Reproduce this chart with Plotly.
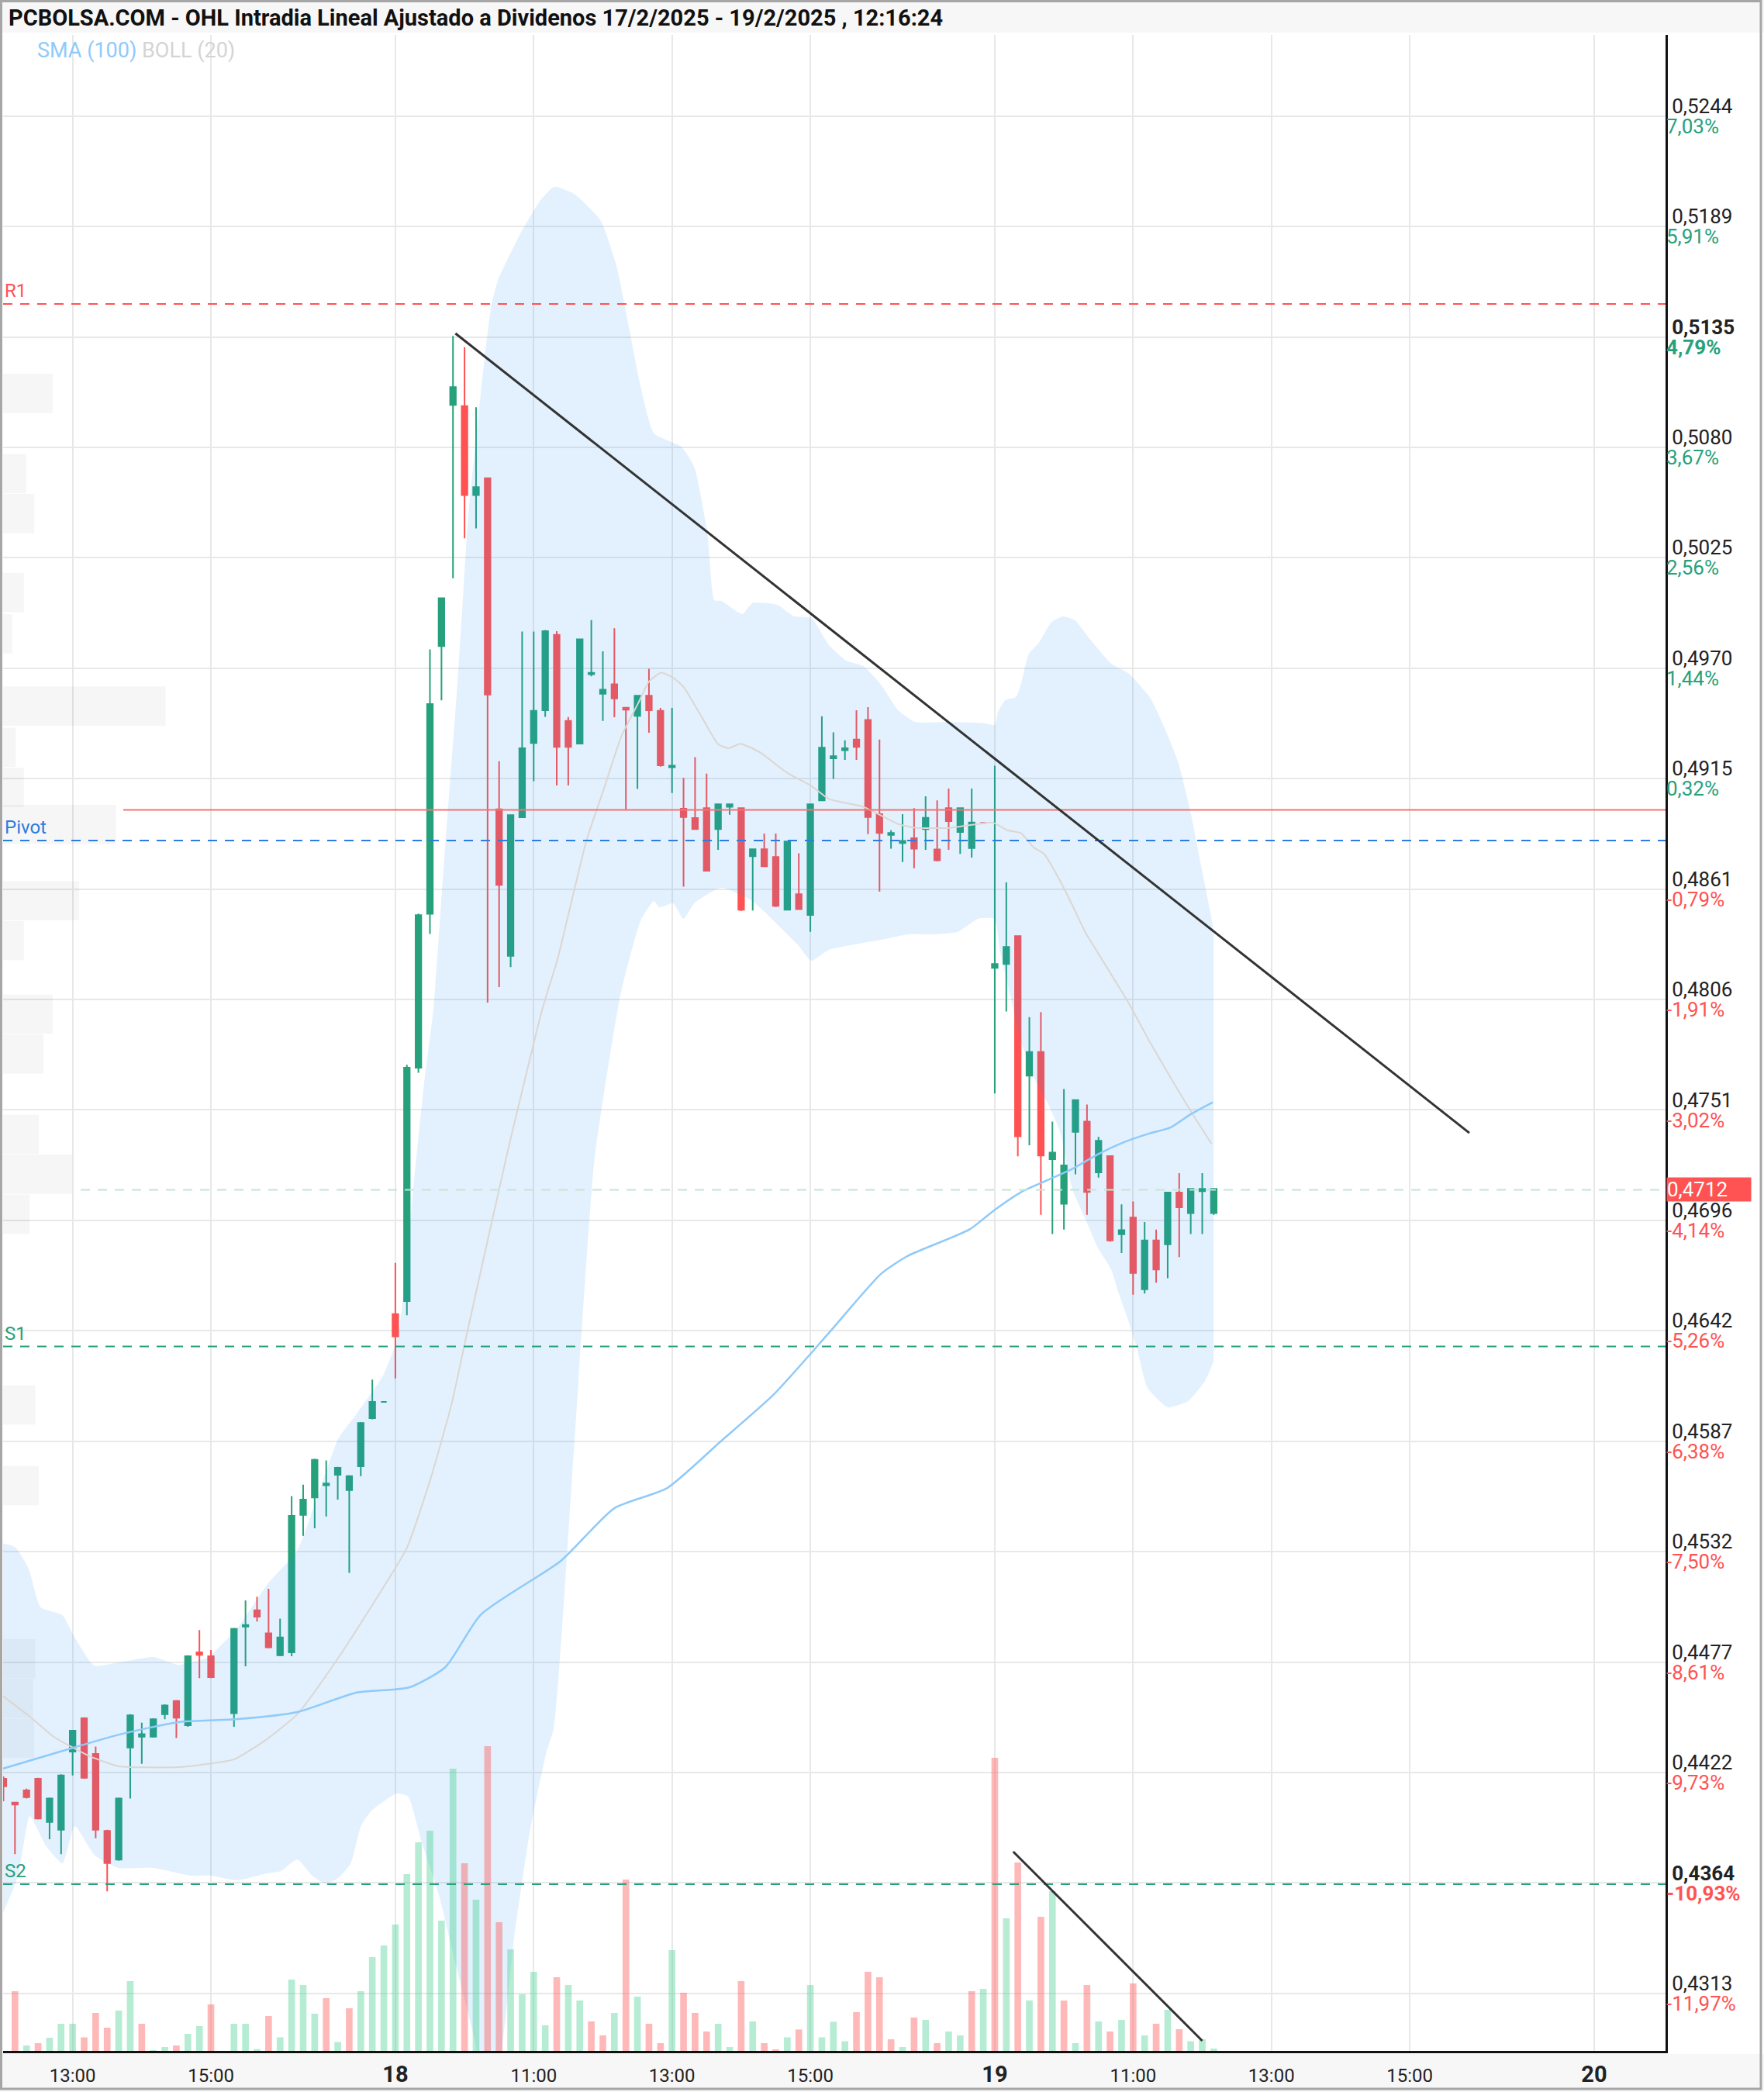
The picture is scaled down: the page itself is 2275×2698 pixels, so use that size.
import plotly.graph_objects as go

# ---------------- data : x = 10-minute slot (0 = 18/2/2025 09:00) ----------------
candle_x = list(range(-34, -15)) + list(range(-14, 72))

open_ = [0.44199, 0.44081, 0.44142, 0.44199, 0.43985, 0.43946, 0.44334, 0.44499, 0.44322, 0.43941,
         0.43798, 0.44354, 0.44408, 0.44408, 0.44519, 0.44585, 0.44465, 0.44826, 0.44807,
         0.44524, 0.44954, 0.45035, 0.44920, 0.44812, 0.44826, 0.45508, 0.45594, 0.45655, 0.45707,
         0.45631, 0.45749, 0.45987, 0.46068,
         0.46504, 0.46568, 0.47725, 0.48489, 0.49816, 0.51012, 0.51006, 0.50565, 0.50649, 0.49007,
         0.48280, 0.48967, 0.49336, 0.49498, 0.49872, 0.49445, 0.49333, 0.49677, 0.49580, 0.49627,
         0.49511, 0.49470, 0.49570, 0.49495, 0.49215, 0.49010, 0.48964, 0.49013, 0.48909, 0.49019,
         0.49013, 0.48774, 0.48809, 0.48770, 0.48509, 0.48586, 0.48483, 0.49051, 0.49260, 0.49300,
         0.49353, 0.49450, 0.48983, 0.48880, 0.48840, 0.48864, 0.48909, 0.48808, 0.49013, 0.48894,
         0.48815, 0.48940, 0.48220, 0.48240, 0.48378, 0.47686, 0.47803, 0.47272, 0.47051, 0.47407,
         0.47458, 0.47206, 0.47287, 0.46900, 0.46982, 0.46627, 0.46869, 0.46850, 0.47106, 0.47004,
         0.47113, 0.47004]
high_ = [0.44211, 0.44081, 0.44150, 0.44204, 0.44106, 0.44221, 0.44442, 0.44504, 0.44359, 0.43946,
         0.44106, 0.44519, 0.44477, 0.44499, 0.44568, 0.44590, 0.44812, 0.44937, 0.44838,
         0.44947, 0.45084, 0.45102, 0.45141, 0.44993, 0.45601, 0.45658, 0.45786, 0.45778, 0.45746,
         0.45705, 0.45968, 0.46179, 0.46068,
         0.46757, 0.47740, 0.48490, 0.49800, 0.50054, 0.51354, 0.51299, 0.51001, 0.50649, 0.49245,
         0.48978, 0.49888, 0.49888, 0.49896, 0.49890, 0.49464, 0.49850, 0.49945, 0.49790, 0.49905,
         0.49511, 0.49570, 0.49704, 0.49510, 0.49510, 0.49163, 0.49265, 0.49184, 0.49032, 0.49032,
         0.49013, 0.48809, 0.48887, 0.48887, 0.48847, 0.48789, 0.49032, 0.49468, 0.49388, 0.49349,
         0.49498, 0.49513, 0.49353, 0.48903, 0.48983, 0.49013, 0.49071, 0.49051, 0.49110, 0.49013,
         0.49110, 0.48940, 0.49223, 0.48644, 0.48378, 0.47976, 0.48001, 0.47458, 0.47620, 0.47565,
         0.47543, 0.47382, 0.47287, 0.47048, 0.47062, 0.46960, 0.46923, 0.47106, 0.47202, 0.47125,
         0.47202, 0.47125]
low_ = [0.44088, 0.43825, 0.44101, 0.43997, 0.43899, 0.43825, 0.44216, 0.44199, 0.43904, 0.43641,
        0.43793, 0.44101, 0.44273, 0.44403, 0.44494, 0.44401, 0.44457, 0.44698, 0.44698,
        0.44457, 0.44757, 0.44979, 0.44846, 0.44807, 0.44807, 0.45404, 0.45441, 0.45500, 0.45584,
        0.45220, 0.45700, 0.45982, 0.46068,
        0.46184, 0.46498, 0.47700, 0.48389, 0.49547, 0.50153, 0.50351, 0.50400, 0.48048, 0.48125,
        0.48224, 0.48967, 0.49146, 0.49465, 0.49125, 0.49125, 0.49333, 0.49666, 0.49445, 0.49463,
        0.49006, 0.49108, 0.49387, 0.49218, 0.49088, 0.48623, 0.48905, 0.48698, 0.48806, 0.48980,
        0.48502, 0.48505, 0.48722, 0.48522, 0.48509, 0.48509, 0.48399, 0.49051, 0.49158, 0.49252,
        0.49252, 0.48884, 0.48599, 0.48812, 0.48745, 0.48715, 0.48806, 0.48748, 0.48806, 0.48786,
        0.48767, 0.48940, 0.47598, 0.48004, 0.47286, 0.47341, 0.46996, 0.46901, 0.46923, 0.47197,
        0.46996, 0.47180, 0.46862, 0.46806, 0.46600, 0.46605, 0.46659, 0.46681, 0.46786, 0.46901,
        0.46901, 0.46996]
close_ = [0.44162, 0.44071, 0.44108, 0.44002, 0.44101, 0.44216, 0.44438, 0.44204, 0.43946, 0.43781,
          0.44101, 0.44514, 0.44420, 0.44494, 0.44563, 0.44502, 0.44807, 0.44814, 0.44703,
          0.44942, 0.44962, 0.45003, 0.44851, 0.44900, 0.45503, 0.45584, 0.45781, 0.45663, 0.45741,
          0.45700, 0.45963, 0.46068, 0.46068,
          0.46393, 0.47725, 0.48482, 0.49529, 0.50054, 0.51101, 0.50565, 0.50605, 0.49576, 0.48632,
          0.48978, 0.49310, 0.49495, 0.49890, 0.49316, 0.49316, 0.49850, 0.49684, 0.49600, 0.49557,
          0.49501, 0.49570, 0.49498, 0.49225, 0.49223, 0.48968, 0.48909, 0.48702, 0.49032, 0.49032,
          0.48509, 0.48809, 0.48724, 0.48528, 0.48847, 0.48512, 0.49032, 0.49313, 0.49270, 0.49310,
          0.49316, 0.48968, 0.48890, 0.48890, 0.48850, 0.48812, 0.48965, 0.48754, 0.48948, 0.49013,
          0.48941, 0.48940, 0.48240, 0.48324, 0.47385, 0.47803, 0.47290, 0.47304, 0.47241, 0.47565,
          0.47109, 0.47363, 0.46869, 0.46920, 0.46707, 0.46869, 0.46725, 0.47106, 0.47033, 0.47125,
          0.47125, 0.47125]

vol_x = list(range(-34, 72))
volume = [0, 77, 7, 10, 17, 35, 35, 17.5, 49, 30,
          52, 90, 35, 1, 5, 7, 22, 32, 60, 0,
          35, 35, 2.4, 45, 17.5, 92, 85, 48, 68, 11.5,
          55, 77, 121, 136,
          163, 228, 269, 284, 168, 364, 242, 195, 393, 166,
          131, 73, 102, 33, 95, 85, 65, 38, 20, 49,
          221, 70, 35, 10, 130, 75, 49, 25, 35, 5,
          90, 38, 10, 2, 17.5, 27.6, 85, 17.5, 37.6, 12.5,
          50, 102, 95, 15, 5, 43, 40, 10, 25, 20,
          77, 80, 378, 171, 243, 65, 173, 206, 65, 10,
          85, 38, 25, 40, 87, 20, 35, 53, 28, 12.5,
          15, 3]
vol_dir = ("grgrgggrrr" "ggrggrggrg" "gggrggggrg" "rggg" "ggggggrgrr" "ggggrggrrg"
           "rgrrgrrrgg" "rgrrgrgggg" "rrrrgrgrgg" "rgrgrgrgrg" "rgrgrgrgrg" "gg")

# faint volume-by-price profile on the left (price bin centre, relative size in slots)
profile_price = [0.51069, 0.50671, 0.50473, 0.50081, 0.49877, 0.49519, 0.49314, 0.49115, 0.48931,
                 0.48554, 0.48356, 0.47991, 0.47793, 0.47395, 0.47197, 0.46999, 0.46053, 0.45653,
                 0.44795, 0.44598, 0.44400]
profile_size = [4.3, 2.0, 2.7, 1.8, 0.8, 14.1, 1.1, 1.8, 9.8, 6.6, 1.8, 4.3, 3.5, 3.1, 6.0, 2.3,
                2.8, 3.1, 2.8, 2.6, 2.7]

# Bollinger (20) upper / lower / middle and SMA (100)
boll_up_x = [-34.3, -33.0, -31.84, -30.77, -28.88, -27.81, -26.13, -23.98, -21.02, -18.8, -16.24,
             -13.68, -10.99, -8.51, -4.94, -3.4, -1.04, 0.24, 1.6, 2.5, 3.31, 4.33, 5.35, 6.36,
             7.14, 7.77, 8.31, 8.91, 10.86, 12.61, 13.75, 15.5, 17.79, 19.2, 20.14, 21.28, 22.43,
             24.78, 25.93, 27.07, 27.67, 28.28, 30.09, 30.97, 33.12, 34.6, 36.08, 37.62, 39.11,
             40.59, 42.13, 43.61, 45.1, 48.12, 51.14, 52.02, 52.26, 52.93, 53.83, 54.27, 54.94,
             55.84, 56.95, 57.96, 58.96, 60.29, 62.09, 63.65, 65.45, 66.56, 67.91, 69.03, 69.92,
             70.81, 71.0]
boll_up = [0.4537, 0.45349, 0.45245, 0.45049, 0.4501, 0.44899, 0.4476, 0.44776, 0.44803, 0.44764,
           0.44803, 0.44949, 0.45172, 0.4533, 0.45887, 0.46006, 0.46202, 0.46398, 0.4715, 0.4765,
           0.48021, 0.48833, 0.49602, 0.50482, 0.50925, 0.51255, 0.51498, 0.51632, 0.51863,
           0.52028, 0.52094, 0.52059, 0.51928, 0.51698, 0.51432, 0.51102, 0.50871, 0.50806,
           0.50705, 0.50375, 0.50044, 0.5004, 0.49975, 0.50029, 0.50021, 0.49963, 0.49956,
           0.49821, 0.49744, 0.49717, 0.49625, 0.49498, 0.4944, 0.4944, 0.49433, 0.49425,
           0.49487, 0.49549, 0.49563, 0.49627, 0.49776, 0.49834, 0.49937, 0.49963, 0.49944,
           0.49848, 0.4973, 0.49679, 0.49562, 0.49433, 0.4924, 0.4898, 0.48721, 0.48463, 0.484]
boll_lo_x = [-34.3, -32.72, -31.71, -30.29, -28.88, -27.81, -26.06, -23.98, -21.02, -17.79, -15.97,
             -13.68, -11.13, -9.92, -8.51, -7.23, -6.09, -4.94, -3.87, -2.99, -2.12, 0.1, 1.11,
             2.25, 3.8, 5.14, 6.89, 7.77, 8.57, 10.32, 11.67, 13.08, 13.75, 15.5, 17.26, 19.54,
             21.29, 22.43, 22.9, 24.11, 24.98, 25.93, 28.28, 30.97, 33.12, 34.94, 36.08, 37.62,
             42.13, 44.49, 46.64, 48.73, 50.54, 51.96, 52.49, 53.38, 54.27, 55.38, 56.5, 57.63,
             58.74, 59.86, 60.98, 62.09, 62.76, 63.65, 64.32, 65.26, 67.01, 68.76, 70.24, 71.0]
boll_lo = [0.43499, 0.43719, 0.44015, 0.43865, 0.4378, 0.43965, 0.43819, 0.43757, 0.43757, 0.43719,
           0.43719, 0.43696, 0.4373, 0.43742, 0.43799, 0.43719, 0.4368, 0.43707, 0.4378, 0.43965,
           0.44038, 0.44126, 0.44111, 0.43892, 0.43619, 0.433, 0.42903, 0.4265, 0.4265, 0.43419,
           0.43938, 0.44326, 0.44453, 0.45841, 0.47264, 0.48091, 0.48456, 0.48552, 0.48521,
           0.48541, 0.48464, 0.48541, 0.48618, 0.48552, 0.48437, 0.48333, 0.48256, 0.4831, 0.4836,
           0.48387, 0.48387, 0.48398, 0.48464, 0.48464, 0.48295, 0.48075, 0.47856, 0.47679,
           0.4756, 0.47414, 0.47122, 0.46976, 0.46829, 0.46726, 0.46606, 0.4646, 0.46337, 0.46137,
           0.46041, 0.46072, 0.46172, 0.46272]
boll_mid_x = [-34.3, -31.71, -29.62, -26.53, -23.98, -18.8, -16.24, -13.95, -11.13, -8.51, -5.21,
              -2.12, 0.98, 3.06, 4.88, 6.09, 9.7, 12.77, 14.05, 16.58, 18.1, 19.6, 21.1, 22.0,
              23.05, 24.1, 25.0, 26.5, 28.0, 28.9, 29.95, 31.61, 34.01, 36.11, 37.61, 40.61, 43.61,
              45.12, 48.12, 50.52, 51.82, 53.16, 54.27, 55.38, 56.28, 57.63, 58.74, 59.86, 60.98,
              63.65, 65.45, 67.69, 69.25, 70.81]
boll_mid = [0.4462, 0.44507, 0.44407, 0.44311, 0.44261, 0.44257, 0.44273, 0.44296, 0.44396, 0.44519,
            0.44777, 0.4505, 0.45342, 0.45688, 0.46058, 0.46377, 0.473, 0.48021, 0.4826, 0.48852,
            0.4911, 0.49368, 0.49537, 0.4964, 0.49685, 0.49659, 0.49614, 0.49472, 0.4933, 0.4931,
            0.49332, 0.4929, 0.49187, 0.49122, 0.49058, 0.49019, 0.48934, 0.48915, 0.48915,
            0.48934, 0.48941, 0.48902, 0.48889, 0.48818, 0.48786, 0.48656, 0.4853, 0.48396,
            0.48292, 0.48043, 0.47853, 0.47634, 0.47487, 0.47348]
sma_x = [-34.3, -29.08, -23.98, -18.8, -13.68, -8.51, -3.4, 1.24, 4.34, 7.43, 14.36, 19.0, 23.58,
         28.22, 32.86, 37.5, 42.13, 44.42, 49.8, 51.96, 54.27, 56.5, 58.74, 60.98, 63.2, 65.45,
         67.24, 69.03, 70.91]
sma = [0.44245, 0.44334, 0.44418, 0.4448, 0.44495, 0.4453, 0.44626, 0.44653, 0.44753, 0.45014,
       0.4528, 0.45541, 0.45641, 0.45872, 0.46107, 0.46403, 0.46703, 0.46791, 0.46923, 0.47019,
       0.47108, 0.47166, 0.47224, 0.47297, 0.47356, 0.474, 0.47429, 0.47496, 0.47554]

# horizontal levels
level_r1 = 0.51513
level_prev_close = 0.49004
level_pivot = 0.48852
level_last = 0.4712
level_s1 = 0.46343
level_s2 = 0.43676

# trend lines (slot, value)
trend_price = [(5.21, 0.51367), (93.17, 0.47402)]
trend_volume = [(53.6, 257), (70.0, 13)]

# axis ticks
x_tick_vals = [-28, -16, 0, 12, 24, 36, 52, 64, 76, 88, 104]
x_tick_text = ["13:00", "15:00", "18", "11:00", "13:00", "15:00", "19", "11:00", "13:00", "15:00", "20"]
x_tick_bold = [False, False, True, False, False, False, True, False, False, False, True]
y_tick_vals = [0.524447, 0.518971, 0.513494, 0.508018, 0.502541, 0.497065, 0.491588, 0.486112,
               0.480635, 0.475159, 0.469682, 0.464206, 0.458729, 0.453253, 0.447776, 0.4423,
               0.436823, 0.431347]
y_tick_price = ["0,5244", "0,5189", "0,5135", "0,5080", "0,5025", "0,4970", "0,4915", "0,4861",
                "0,4806", "0,4751", "0,4696", "0,4642", "0,4587", "0,4532", "0,4477", "0,4422",
                "0,4364", "0,4313"]
y_tick_pct = ["7,03%", "5,91%", "4,79%", "3,67%", "2,56%", "1,44%", "0,32%", "-0,79%", "-1,91%",
              "-3,02%", "-4,14%", "-5,26%", "-6,38%", "-7,50%", "-8,61%", "-9,73%", "-10,93%",
              "-11,97%"]
y_tick_bold = ["0,5135", "0,4364"]

# ---------------- styling ----------------
W, H = 2275, 2698
ML, MR, MT, MB = 4, 127, 45, 53
PW, PH = W - ML - MR, H - MT - MB
GREEN = "#26a17b"
RED = "#ff5252"
VOL_G = "rgba(60,205,140,0.38)"
VOL_R = "rgba(255,85,85,0.42)"
FONT = "Roboto"
X_RANGE = [-34.03, 110.19]
Y_RANGE = [0.428496, 0.528473]

fig = go.Figure()

# volume-by-price profile (very faint, behind everything in the price pane)
fig.add_trace(go.Bar(y=profile_price, x=profile_size, base=X_RANGE[0], orientation="h", width=0.00195,
                     marker=dict(color="rgba(0,0,0,0.035)", line=dict(width=0)), hoverinfo="skip"))

fig.add_trace(go.Bar(x=vol_x, y=volume, width=0.58, yaxis="y2",
                     marker=dict(color=[VOL_G if d == "g" else VOL_R for d in vol_dir], line=dict(width=0)),
                     hoverinfo="skip"))

fig.add_trace(go.Scatter(x=boll_up_x, y=boll_up, mode="lines",
                         line=dict(width=0, shape="spline", smoothing=0.5), hoverinfo="skip"))
fig.add_trace(go.Scatter(x=boll_lo_x, y=boll_lo, mode="lines", fill="tonexty",
                         fillcolor="rgba(33,150,243,0.13)",
                         line=dict(width=0, shape="spline", smoothing=0.5), hoverinfo="skip"))
fig.add_trace(go.Scatter(x=boll_mid_x, y=boll_mid, mode="lines",
                         line=dict(color="#dcd6d2", width=2, shape="spline", smoothing=0.5),
                         hoverinfo="skip"))
fig.add_trace(go.Scatter(x=sma_x, y=sma, mode="lines",
                         line=dict(color="#90caf9", width=2.5, shape="spline", smoothing=0.6),
                         hoverinfo="skip"))

fig.add_trace(go.Candlestick(x=candle_x, open=open_, high=high_, low=low_, close=close_,
                             increasing=dict(line=dict(color=GREEN, width=2), fillcolor=GREEN),
                             decreasing=dict(line=dict(color=RED, width=2), fillcolor=RED),
                             whiskerwidth=0, hoverinfo="skip"))
fig.add_trace(go.Scatter(x=[None], y=[None], yaxis="y3", mode="lines", hoverinfo="skip"))

# ---------- shapes ----------
shapes = []
shapes.append(dict(type="rect", xref="paper", yref="paper", layer="below",
                   x0=-ML / PW, x1=(W - ML) / PW, y0=1 + (MT - 42) / PH, y1=1 + MT / PH,
                   fillcolor="#f7f7f7", line=dict(width=0)))
shapes.append(dict(type="rect", xref="paper", yref="paper", layer="below",
                   x0=-ML / PW, x1=(W - ML) / PW, y0=-MB / PH, y1=-4 / PH,
                   fillcolor="#f7f7f7", line=dict(width=0)))


def hline(y, color, dash, x0=None, width=2):
    d = dict(type="line", yref="y", y0=y, y1=y, layer="above",
             line=dict(color=color, width=width, dash=dash))
    if x0 is None:
        d.update(xref="paper", x0=0, x1=1)
    else:
        d.update(xref="x", x0=x0, x1=X_RANGE[1])
    return d


shapes.append(hline(level_r1, RED, "12px,10px"))
shapes.append(hline(level_prev_close, "#f27474", "solid", x0=-23.6))
shapes.append(hline(level_pivot, "#2a7de1", "12px,10px"))
shapes.append(hline(level_last, "#c3e6d3", "12px,10px", x0=-27.3))
shapes.append(hline(level_s1, GREEN, "12px,10px"))
shapes.append(hline(level_s2, GREEN, "12px,10px"))
shapes.append(dict(type="line", xref="x", yref="y", layer="above",
                   x0=trend_price[0][0], y0=trend_price[0][1], x1=trend_price[1][0], y1=trend_price[1][1],
                   line=dict(color="#333333", width=3)))
shapes.append(dict(type="line", xref="x", yref="y2", layer="above",
                   x0=trend_volume[0][0], y0=trend_volume[0][1], x1=trend_volume[1][0], y1=trend_volume[1][1],
                   line=dict(color="#333333", width=3)))
shapes.append(dict(type="rect", xref="paper", yref="paper", layer="above",
                   x0=(-ML + 1.5) / PW, x1=(W - ML - 4) / PW, y0=(-MB + 4) / PH, y1=1 + (MT - 1.5) / PH,
                   fillcolor="rgba(0,0,0,0)", line=dict(color="#a6a6a6", width=3)))

# ---------- annotations ----------
ann = []
ann.append(dict(xref="paper", yref="paper", x=5 / PW, y=1 + (MT - 23) / PH, xanchor="left", yanchor="middle",
                text="<b>PCBOLSA.COM - OHL Intradia Lineal Ajustado a Dividenos 17/2/2025 - 19/2/2025 , 12:16:24</b>",
                showarrow=False, font=dict(family=FONT, size=29, color="#111111")))
ann.append(dict(xref="paper", yref="paper", x=42 / PW, y=1 - (65 - MT) / PH, xanchor="left", yanchor="middle",
                text="<span style='color:#90caf9'>SMA (100)</span> <span style='color:#d4d4d4'>BOLL (20)</span>",
                showarrow=False, font=dict(family=FONT, size=27)))
for name, lvl, col in [("R1", level_r1, RED), ("Pivot", level_pivot, "#2a7de1"),
                       ("S1", level_s1, GREEN), ("S2", level_s2, GREEN)]:
    ann.append(dict(xref="paper", yref="y", x=0, y=lvl, xanchor="left", yanchor="bottom", yshift=1,
                    text=name, showarrow=False, font=dict(family=FONT, size=24, color=col)))
ann.append(dict(xref="paper", yref="y", x=1, y=level_last, xanchor="left", yanchor="middle", xshift=1,
                text="0,4712", showarrow=False, bgcolor=RED, width=108, height=30, align="left",
                borderpad=0, font=dict(family=FONT, size=26, color="white")))

x_text = [f"<span style='font-size:29px'><b>{t}</b></span>" if b else t
          for t, b in zip(x_tick_text, x_tick_bold)]
price_text = [f"<b>{p}</b>" if p in y_tick_bold else p for p in y_tick_price]
pct_text = []
for p, q in zip(y_tick_price, y_tick_pct):
    c = RED if q.startswith("-") else GREEN
    t = f"<span style='color:{c}'>{q}</span>"
    pct_text.append(f"<b>{t}</b>" if p in y_tick_bold else t)

fig.update_layout(
    width=W, height=H, margin=dict(l=ML, r=MR, t=MT, b=MB),
    paper_bgcolor="white", plot_bgcolor="rgba(0,0,0,0)",
    showlegend=False, boxgap=0.3, barmode="overlay",
    font=dict(family=FONT, size=24, color="#222222"),
    xaxis=dict(range=X_RANGE, tickmode="array", tickvals=x_tick_vals, ticktext=x_text,
               showgrid=True, gridcolor="#e8e8e8", gridwidth=2, zeroline=False,
               showline=True, linecolor="#111111", linewidth=3, ticks="",
               tickfont=dict(family=FONT, size=24, color="#222222"), ticklabelstandoff=8,
               rangeslider=dict(visible=False)),
    yaxis=dict(range=Y_RANGE, side="right", tickmode="array", tickvals=y_tick_vals, ticktext=price_text,
               showgrid=True, gridcolor="#e8e8e8", gridwidth=2, zeroline=False,
               showline=True, linecolor="#111111", linewidth=3, ticks="",
               tickfont=dict(family=FONT, size=26, color="#222222"), ticklabelshift=-13,
               ticklabelstandoff=0),
    yaxis2=dict(range=[0, PH], overlaying="y", visible=False),
    yaxis3=dict(range=Y_RANGE, overlaying="y", side="right", tickmode="array", tickvals=y_tick_vals,
                ticktext=pct_text, showgrid=False, zeroline=False, showline=False, ticks="",
                tickfont=dict(family=FONT, size=26, color="#222222"), ticklabelshift=13,
                ticklabelstandoff=0),
    shapes=shapes, annotations=ann,
)

fig.write_html("out.html")
